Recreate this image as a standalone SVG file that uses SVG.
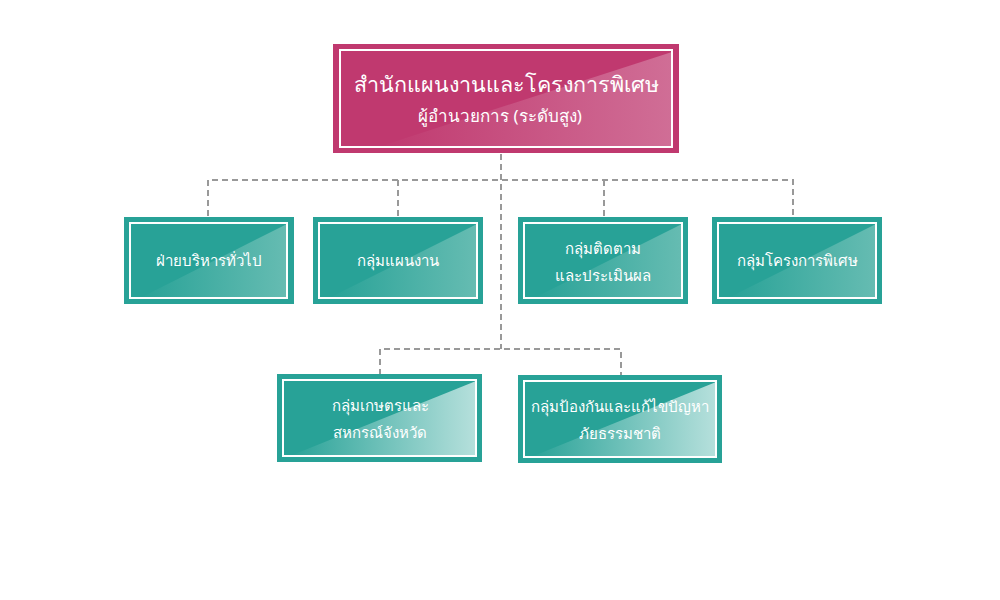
<svg xmlns="http://www.w3.org/2000/svg" width="1000" height="600" viewBox="0 0 1000 600">
<defs>
<linearGradient id="gp" x1="0" y1="0" x2="1" y2="0">
<stop offset="0" stop-color="#C0396F"/><stop offset="1" stop-color="#D06E96"/>
</linearGradient>
<linearGradient id="gt" x1="0" y1="0" x2="1" y2="0">
<stop offset="0" stop-color="#28A297"/><stop offset="1" stop-color="#66BCB2"/>
</linearGradient>
<linearGradient id="gb" x1="0" y1="0" x2="1" y2="0">
<stop offset="0" stop-color="#28A297"/><stop offset="1" stop-color="#B6E0DC"/>
</linearGradient>
<style>
.pk{fill:#C0396F}
.tl{fill:#28A297}
.in{fill:none;stroke:#FFFFFF;stroke-width:2}
.t{fill:#FFFFFF;font-family:"Noto Sans","DejaVu Sans",sans-serif;text-anchor:middle;font-size:15px}
.c{fill:none;stroke:#999999;stroke-width:2;stroke-dasharray:6 4}
</style>
</defs>
<g id="connectors">
<path class="c" d="M501 154 V349"/>
<path class="c" d="M208 216 V180 H793 V216"/>
<path class="c" d="M398 180 V216"/>
<path class="c" d="M604 180 V216"/>
<path class="c" d="M380 375 V349 H621 V375"/>
</g>
<g id="top">
<rect class="pk" x="333" y="44" width="346" height="109"/>
<polygon points="378,147 672,52 672,147" fill="url(#gp)"/>
<rect class="in" x="340" y="50" width="332" height="97"/>
<text class="t" x="506" y="92" style="font-size:21.5px;font-weight:500">สำนักแผนงานและโครงการพิเศษ</text>
<text class="t" x="500" y="122" style="font-size:17px">ผู้อำนวยการ (ระดับสูง)</text>
</g>
<g id="n1">
<rect class="tl" x="124" y="217" width="170" height="87"/>
<polygon points="140,298 287,224 287,298" fill="url(#gt)"/>
<rect class="in" x="130" y="223" width="157" height="75"/>
<text class="t" x="209" y="266">ฝ่ายบริหารทั่วไป</text>
</g>
<g id="n2">
<rect class="tl" x="313" y="217" width="170" height="87"/>
<polygon points="329,298 477,224 477,298" fill="url(#gt)"/>
<rect class="in" x="319" y="223" width="158" height="75"/>
<text class="t" x="398" y="266">กลุ่มแผนงาน</text>
</g>
<g id="n3">
<rect class="tl" x="518" y="217" width="170" height="87"/>
<polygon points="534,298 682,224 682,298" fill="url(#gt)"/>
<rect class="in" x="524" y="223" width="158" height="75"/>
<text class="t" x="603" y="254">กลุ่มติดตาม</text>
<text class="t" x="603" y="281">และประเมินผล</text>
</g>
<g id="n4">
<rect class="tl" x="712" y="217" width="170" height="87"/>
<polygon points="728,298 876,224 876,298" fill="url(#gt)"/>
<rect class="in" x="718" y="223" width="158" height="75"/>
<text class="t" x="797" y="266">กลุ่มโครงการพิเศษ</text>
</g>
<g id="n5">
<rect class="tl" x="277" y="374" width="205" height="88"/>
<polygon points="290,456 476,381 476,456" fill="url(#gb)"/>
<rect class="in" x="283" y="380" width="193" height="76"/>
<text class="t" x="380" y="411">กลุ่มเกษตรและ</text>
<text class="t" x="380" y="438">สหกรณ์จังหวัด</text>
</g>
<g id="n6">
<rect class="tl" x="518" y="375" width="204" height="88"/>
<polygon points="531,457 716,382 716,457" fill="url(#gb)"/>
<rect class="in" x="524" y="381" width="192" height="76"/>
<text class="t" x="620" y="412">กลุ่มป้องกันและแก้ไขปัญหา</text>
<text class="t" x="620" y="439">ภัยธรรมชาติ</text>
</g>
</svg>
